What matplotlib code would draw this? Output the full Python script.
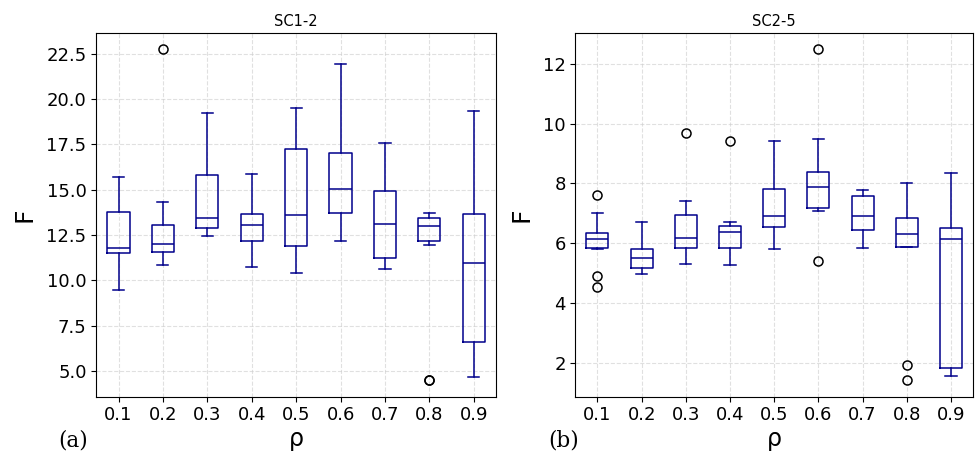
import matplotlib
matplotlib.use("Agg")
import matplotlib.pyplot as plt

rho_labels = ["0.1", "0.2", "0.3", "0.4", "0.5", "0.6", "0.7", "0.8", "0.9"]

## SC1-2 box stats
sc12_whislo = [9.46, 10.82, 12.44, 10.75, 10.40, 12.15, 10.64, 11.96, 4.65]
sc12_q1 = [11.51, 11.56, 12.87, 12.15, 11.87, 13.72, 11.23, 12.19, 6.62]
sc12_med = [11.76, 11.98, 13.46, 13.05, 13.60, 15.04, 13.09, 13.01, 10.93]
sc12_q3 = [13.77, 13.07, 15.79, 13.66, 17.23, 17.05, 14.91, 13.46, 13.68]
sc12_whishi = [15.72, 14.30, 19.22, 15.85, 19.48, 21.91, 17.60, 13.73, 19.35]
sc12_fliers = [[], [22.74], [], [], [], [], [], [4.52, 4.50], []]

## SC2-5 box stats
sc25_whislo = [5.82, 4.96, 5.32, 5.28, 5.82, 7.07, 5.84, 5.86, 1.57]
sc25_q1 = [5.84, 5.18, 5.85, 5.83, 6.55, 7.19, 6.44, 5.88, 1.84]
sc25_med = [6.15, 5.50, 6.16, 6.38, 6.90, 7.87, 6.92, 6.31, 6.15]
sc25_q3 = [6.34, 5.81, 6.94, 6.59, 7.82, 8.37, 7.57, 6.85, 6.52]
sc25_whishi = [7.02, 6.70, 7.40, 6.72, 9.41, 9.50, 7.79, 8.00, 8.34]
sc25_fliers = [[7.62, 4.90, 4.55], [], [9.70], [9.41], [], [12.48, 5.41], [], [1.93, 1.42], []]


def make_stats(lo, q1, med, q3, hi, fl):
    stats = []
    for i in range(len(lo)):
        stats.append({"whislo": lo[i], "q1": q1[i], "med": med[i], "q3": q3[i],
                      "whishi": hi[i], "fliers": fl[i], "label": rho_labels[i]})
    return stats


fig = plt.figure(figsize=(9.76, 4.57), dpi=100)
ax1 = fig.add_axes([0.0987, 0.132, 0.4095, 0.796])
ax2 = fig.add_axes([0.5895, 0.132, 0.4075, 0.796])

col = "#00008B"
props = dict(
    boxprops=dict(color=col, linewidth=1.1),
    whiskerprops=dict(color=col, linewidth=1.1),
    capprops=dict(color=col, linewidth=1.1),
    medianprops=dict(color=col, linewidth=1.1),
    flierprops=dict(marker="o", markerfacecolor="none", markeredgecolor="black",
                    markersize=6.5, markeredgewidth=1.1),
)

ax1.bxp(make_stats(sc12_whislo, sc12_q1, sc12_med, sc12_q3, sc12_whishi, sc12_fliers), **props)
ax2.bxp(make_stats(sc25_whislo, sc25_q1, sc25_med, sc25_q3, sc25_whishi, sc25_fliers), **props)

for ax, title in [(ax1, "SC1-2"), (ax2, "SC2-5")]:
    ax.set_title(title, fontsize=10.5, pad=5)
    ax.set_ylabel("F", fontsize=18, labelpad=7)
    ax.set_xlabel("ρ", fontsize=17, labelpad=2)
    ax.tick_params(labelsize=13)
    ax.grid(True, linestyle="--", color="#cccccc", alpha=0.6, linewidth=0.8)
    ax.set_axisbelow(True)

ax1.set_yticks([5.0, 7.5, 10.0, 12.5, 15.0, 17.5, 20.0, 22.5])
ax1.set_ylim(3.58, 23.65)
ax2.set_yticks([2, 4, 6, 8, 10, 12])
ax2.set_ylim(0.87, 13.03)

fig.text(0.075, 0.022, "(a)", fontsize=15.5, family="DejaVu Serif", ha="center")
fig.text(0.577, 0.022, "(b)", fontsize=15.5, family="DejaVu Serif", ha="center")

fig.savefig("out.png", dpi=100)
